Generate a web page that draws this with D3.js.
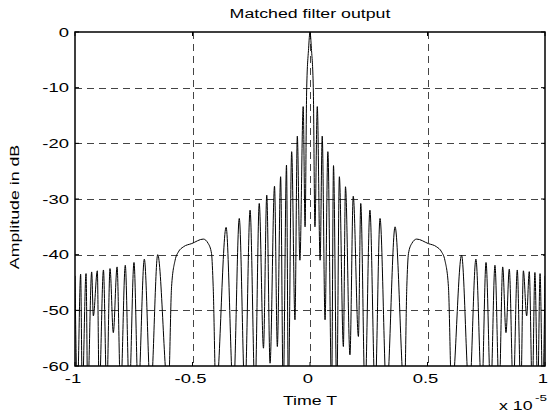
<!DOCTYPE html>
<html>
<head>
<meta charset="utf-8">
<script src="https://cdn.jsdelivr.net/npm/d3@7"></script>
<style>
  body { margin: 0; background: #fff; }
  text { font-family: Arial, "Liberation Sans", sans-serif; fill: #000; }
</style>
</head>
<body>
<svg id="chart"></svg>
<script>
// time axis in units of 1e-5 s, level in dB (peaks and nulls)
const timeLeft = [-1.000, -0.990, -0.976, -0.969, -0.953, -0.946, -0.929, -0.922, -0.905, -0.897,
  -0.879, -0.865, -0.851, -0.837, -0.821, -0.806, -0.786, -0.769, -0.749, -0.731,
  -0.705, -0.678, -0.648, -0.603, -0.589, -0.574, -0.560, -0.539, -0.503, -0.454,
  -0.433, -0.419, -0.412, -0.400, -0.357, -0.326, -0.301, -0.277, -0.255, -0.234,
  -0.216, -0.198, -0.184, -0.170, -0.151, -0.139, -0.125, -0.114, -0.100, -0.092,
  -0.078, -0.064, -0.054, -0.043, -0.029, -0.021, -0.014, -0.006, 0];
const levelLeft = [-43.8, -65, -43.5, -65, -43.4, -65, -43.1, -51, -42.9, -65,
  -42.75, -65, -42.5, -54, -42.2, -65, -41.9, -65, -41.4, -65,
  -40.8, -65, -40.0, -65, -45.7, -41, -39.5, -38.6, -38, -37.2,
  -38, -39.8, -45.7, -65, -35.1, -65, -33.5, -65, -32, -65,
  -30.8, -56.8, -29.3, -59.5, -27.7, -56.5, -26, -65, -23.9, -65,
  -21.5, -51.7, -18.7, -41, -13.4, -35, -10, -3, 0];
const timeRight = [0.006, 0.014, 0.021, 0.031, 0.043, 0.052, 0.064, 0.076, 0.092, 0.100,
  0.114, 0.125, 0.142, 0.151, 0.170, 0.184, 0.206, 0.216, 0.234, 0.255,
  0.277, 0.298, 0.326, 0.362, 0.402, 0.412, 0.419, 0.433, 0.454, 0.503,
  0.539, 0.560, 0.574, 0.589, 0.603, 0.645, 0.678, 0.706, 0.731, 0.749,
  0.769, 0.787, 0.805, 0.820, 0.834, 0.848, 0.865, 0.882, 0.897, 0.908,
  0.922, 0.933, 0.946, 0.957, 0.969, 0.979, 0.990, 1.000];
const levelRight = [-3, -10, -35, -13.4, -41, -18.7, -51.7, -21.5, -65, -24,
  -65, -26, -56.5, -27.8, -58, -29.5, -54.7, -30.8, -65, -32,
  -65, -33.5, -65, -35, -65, -45.7, -39.8, -38, -37.2, -38,
  -38.6, -39.5, -41, -45.7, -65, -40.1, -65, -40.8, -65, -41.4,
  -65, -41.9, -65, -42.2, -54, -42.6, -65, -42.75, -65, -42.9,
  -51, -43.05, -65, -43.2, -65, -43.4, -65, -43.8];

const xTicks = [-1, -0.5, 0, 0.5, 1];
const xTickLabels = ["-1", "-0.5", "0", "0.5", "1"];
const yTicks = [0, -10, -20, -30, -40, -50, -60];

const width = 548, height = 417;
const margin = { top: 32, right: 3, bottom: 51, left: 75 };
const stretch = 1.42; // glyphs in the picture are wider than normal Arial

const svg = d3.select("#chart").attr("width", width).attr("height", height);

const x = d3.scaleLinear().domain([-1, 1]).range([margin.left, width - margin.right]);
const y = d3.scaleLinear().domain([-60, 0]).range([height - margin.bottom, margin.top]);

svg.append("defs").append("clipPath").attr("id", "plotClip")
  .append("rect")
  .attr("x", x(-1)).attr("y", y(0))
  .attr("width", x(1) - x(-1)).attr("height", y(-60) - y(0));

// grid
const grid = svg.append("g").attr("stroke", "#444").attr("stroke-width", 1)
  .attr("stroke-dasharray", "7,5");
grid.selectAll(".gx").data(xTicks.slice(1, -1)).enter().append("line")
  .attr("x1", d => Math.round(x(d)) + 0.5).attr("x2", d => Math.round(x(d)) + 0.5)
  .attr("y1", y(0)).attr("y2", y(-60));
grid.selectAll(".gy").data(yTicks.slice(1, -1)).enter().append("line")
  .attr("y1", d => Math.round(y(d)) + 0.5).attr("y2", d => Math.round(y(d)) + 0.5)
  .attr("x1", x(-1)).attr("x2", x(1));

// trace
const points = timeLeft.map((t, i) => [t, levelLeft[i]])
  .concat(timeRight.map((t, i) => [t, levelRight[i]]));
const line = d3.line()
  .x(d => x(d[0]))
  .y(d => y(d[1]))
  .curve(d3.curveMonotoneX);
svg.append("path")
  .datum(points)
  .attr("clip-path", "url(#plotClip)")
  .attr("fill", "none")
  .attr("stroke", "#000")
  .attr("stroke-width", 1)
  .attr("d", line);

// box and inward ticks
const axes = svg.append("g").attr("stroke", "#000").attr("fill", "none");
axes.append("rect")
  .attr("x", x(-1)).attr("y", y(0))
  .attr("width", x(1) - x(-1)).attr("height", y(-60) - y(0))
  .attr("stroke-width", 1.5);
const tickLen = 4;
xTicks.forEach(d => {
  axes.append("line").attr("x1", x(d)).attr("x2", x(d))
    .attr("y1", y(-60)).attr("y2", y(-60) - tickLen);
  axes.append("line").attr("x1", x(d)).attr("x2", x(d))
    .attr("y1", y(0)).attr("y2", y(0) + tickLen);
});
yTicks.forEach(d => {
  axes.append("line").attr("y1", y(d)).attr("y2", y(d))
    .attr("x1", x(-1)).attr("x2", x(-1) + tickLen);
  axes.append("line").attr("y1", y(d)).attr("y2", y(d))
    .attr("x1", x(1)).attr("x2", x(1) - tickLen);
});

function label(tx, ty, str, size, anchor, rot) {
  const g = svg.append("g")
    .attr("transform", `translate(${tx},${ty}) rotate(${rot || 0}) scale(${stretch},1)`);
  return g.append("text")
    .attr("font-size", size)
    .attr("text-anchor", anchor)
    .text(str);
}

// tick labels
yTicks.forEach(d => label(x(-1) - 6, y(d) + 4.6, String(d), 13, "end"));
xTicks.forEach((d, i) => label(x(d) - 2, y(-60) + 16.5, xTickLabels[i], 13, "middle"));

// titles
label((x(-1) + x(1)) / 2 + 0, 18, "Matched filter output", 12.5, "middle");
label((x(-1) + x(1)) / 2 + 0, 405, "Time T", 12.5, "middle");
label(19, 207, "Amplitude in dB", 12.5, "middle", -90);
label(499, 410, "x 10", 12.5, "start");
label(535, 401, "-5", 9.5, "start");
</script>
</body>
</html>
